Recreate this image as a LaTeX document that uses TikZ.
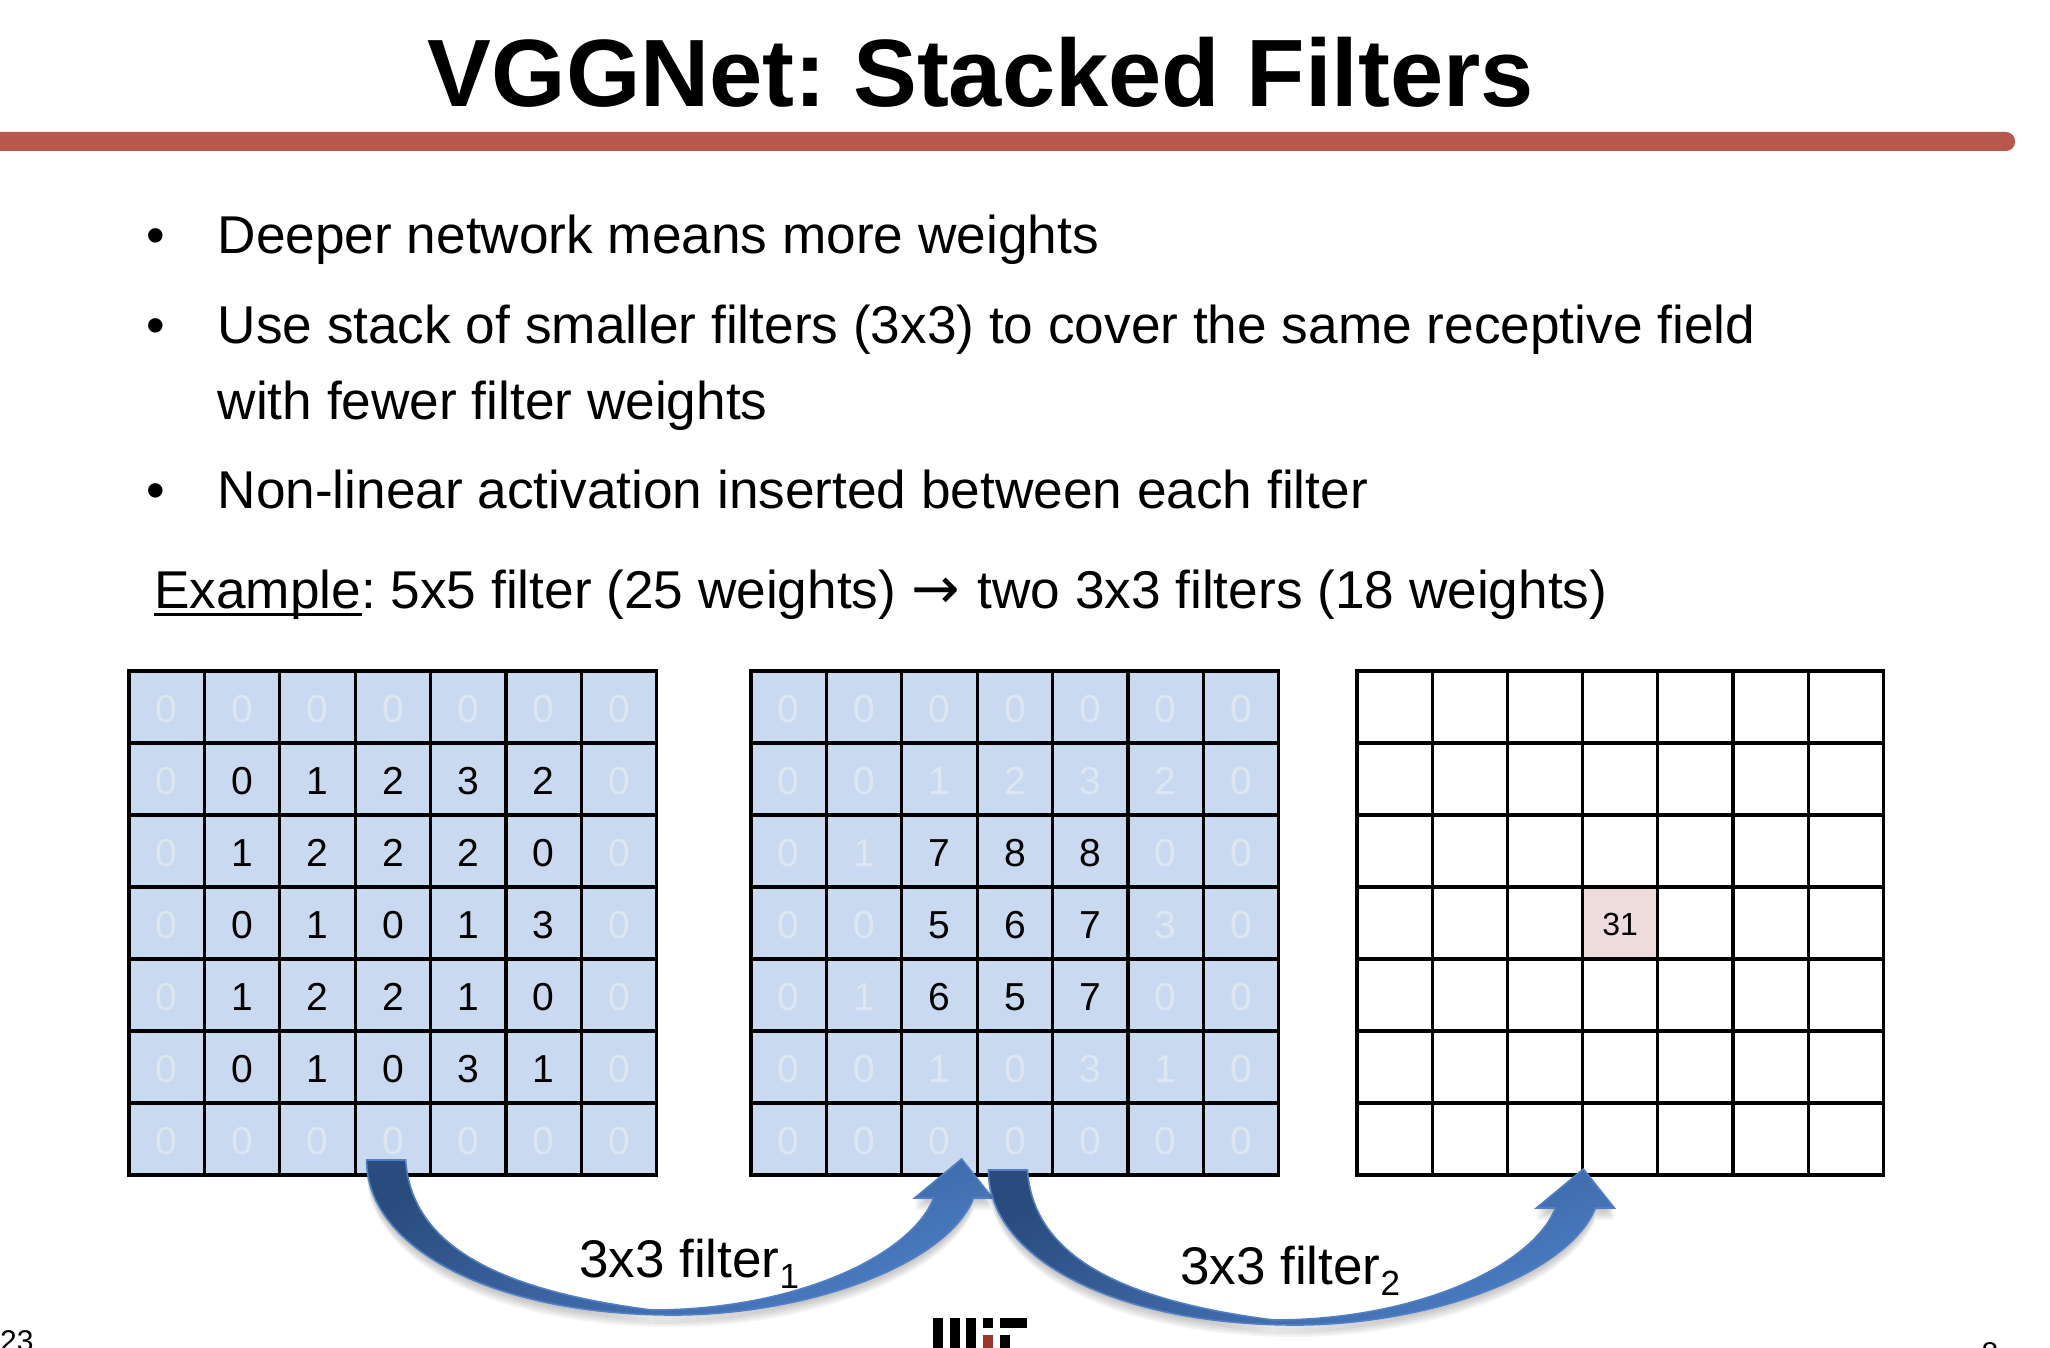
\documentclass[tikz,border=0pt]{standalone}
\usepackage{fontspec}
\setmainfont{Liberation Sans}
\newfontfamily\symfont{DejaVu Sans}
\usepackage{xcolor}
\usetikzlibrary{positioning}
\definecolor{slide_red}{RGB}{184, 87, 77}
\definecolor{cell_blue}{RGB}{200, 217, 240}
\definecolor{cell_zero}{RGB}{222, 230, 242}
\definecolor{cell_pink}{RGB}{238, 220, 220}
\definecolor{arrow_dark}{RGB}{42, 75, 125}
\definecolor{arrow_light}{RGB}{76, 126, 198}
\definecolor{arrow_rim}{RGB}{80, 128, 195}
\definecolor{logo_red}{RGB}{150, 55, 48}
\frenchspacing
\newcommand{\fs}[1]{\fontsize{#1}{#1}\selectfont}
\newcommand{\subnum}[1]{{\fs{35}\raisebox{-11pt}{#1}}}
\newcommand{\filterpath}{(0,0) .. controls (0,90) and (130,155) .. (307,155)
  .. controls (440,155) and (580,105) .. (607,38) -- (626,38) -- (595,-1) -- (548,38) -- (567,38)
  .. controls (545,95) and (430,150) .. (285,150)
  .. controls (130,130) and (45,85) .. (39,0) -- cycle}
\tikzset{
  gridline/.style={draw=black, line width=3.2pt},
  bodytext/.style={anchor=base west, inner sep=0pt, font=\fs{53.2}},
  cellnum/.style={inner sep=0pt, font=\fs{39}},
  filter arrow/.pic={
    \foreach \s in {2,4,...,12} {
      \fill[black, opacity=0.045, shift={(0,\s)}] \filterpath;
    }
    \shade[top color=arrow_dark, bottom color=arrow_light, shading angle=25,
      draw=arrow_rim, line width=1.6pt] \filterpath;
  }
}

\begin{document}
\begin{tikzpicture}[x=1pt, y=-1pt]
  \useasboundingbox (0,0) rectangle (2050,1348);
  \clip (0,0) rectangle (2050,1348);

  % Title and bar
  \node[anchor=base, inner sep=0pt, font=\fs{95.7}\bfseries] (title) at (981,107) {VGGNet: Stacked Filters};
  \fill[slide_red, rounded corners=9pt] (-20,132) rectangle (2015,151);

  % Bullets
  \foreach \y in {254,343,508} {
    \node[bodytext] (dot\y) at (146,\y) {•};
  }
  \node[bodytext] (line1) at (217.5,254) {Deeper network means more weights};
  \node[bodytext] (line2) at (217.5,343) {Use stack of smaller filters (3x3) to cover the same receptive field};
  \node[bodytext] (line3) at (217.5,419) {with fewer filter weights};
  \node[bodytext] (line4) at (217.5,508) {Non-linear activation inserted between each filter};
  \node[bodytext] (example) at (154,608) {\rlap{\rule[-8pt]{208pt}{3pt}}Example: 5x5 filter (25 weights) {\symfont\fs{58}→}\kern3pt{} two 3x3 filters (18 weights)};

  % Grid A (7x7)
  \foreach \r in {0,...,6} {
    \foreach \c in {0,...,6} {
      \draw[gridline, fill=cell_blue] (129+\c*75.4, 671+\r*72) rectangle ++(75.4,72);
    }
  }
  \foreach \vals [count=\r from 0] in {{0,0,0,0,0,0,0},{0,0,1,2,3,2,0},{0,1,2,2,2,0,0},{0,0,1,0,1,3,0},{0,1,2,2,1,0,0},{0,0,1,0,3,1,0},{0,0,0,0,0,0,0}} {
    \foreach \v [count=\c from 0] in \vals {
      \pgfmathsetmacro\tone{and(and(\r>0,\r<6),and(\c>0,\c<6)) ? "black" : "cell_zero"}
      \node[cellnum, text=\tone] (a-\r-\c) at (166.7+\c*75.4, 709+\r*72) {\v};
    }
  }

  % Grid B (7x7)
  \foreach \r in {0,...,6} {
    \foreach \c in {0,...,6} {
      \draw[gridline, fill=cell_blue] (751+\c*75.4, 671+\r*72) rectangle ++(75.4,72);
    }
  }
  \foreach \vals [count=\r from 0] in {{0,0,0,0,0,0,0},{0,0,1,2,3,2,0},{0,1,7,8,8,0,0},{0,0,5,6,7,3,0},{0,1,6,5,7,0,0},{0,0,1,0,3,1,0},{0,0,0,0,0,0,0}} {
    \foreach \v [count=\c from 0] in \vals {
      \pgfmathsetmacro\tone{and(and(\r>1,\r<5),and(\c>1,\c<5)) ? "black" : "cell_zero"}
      \node[cellnum, text=\tone] (b-\r-\c) at (788.7+\c*75.4, 709+\r*72) {\v};
    }
  }

  % Grid C (7x7)
  \foreach \r in {0,...,6} {
    \foreach \c in {0,...,6} {
      \draw[gridline] (1357+\c*75.2, 671+\r*72) rectangle ++(75.2,72);
    }
  }
  \draw[gridline, fill=cell_pink] (1357+3*75.2, 671+3*72) rectangle ++(75.2,72);
  \node[inner sep=0pt, font=\fs{32}] (result) at (1357+3.5*75.2, 924.5) {31};

  % Filter arrows
  \pic at (366.6,1160) {filter arrow};
  \pic at (988.4,1170) {filter arrow};
  \node[bodytext, font=\fs{53}] (filter1) at (579,1277) {3x3 filter\subnum{1}};
  \node[bodytext, font=\fs{53}] (filter2) at (1180,1284) {3x3 filter\subnum{2}};

  % Logo
  \foreach \x in {933,949.5,966} {
    \fill (\x,1318) rectangle ++(10,30);
  }
  \fill (983,1318) rectangle ++(10,10);
  \fill (1000,1318) rectangle ++(27,10);
  \fill[logo_red] (983,1335) rectangle ++(10,13);
  \fill (1000,1335) rectangle ++(10,13);

  % Page numbers
  \node[anchor=base west, inner sep=0pt, font=\fs{30}] (pageleft) at (0,1351) {23};
  \node[anchor=base, inner sep=0pt, font=\fs{30}] (pageright) at (1990,1363) {8};
\end{tikzpicture}
\end{document}
